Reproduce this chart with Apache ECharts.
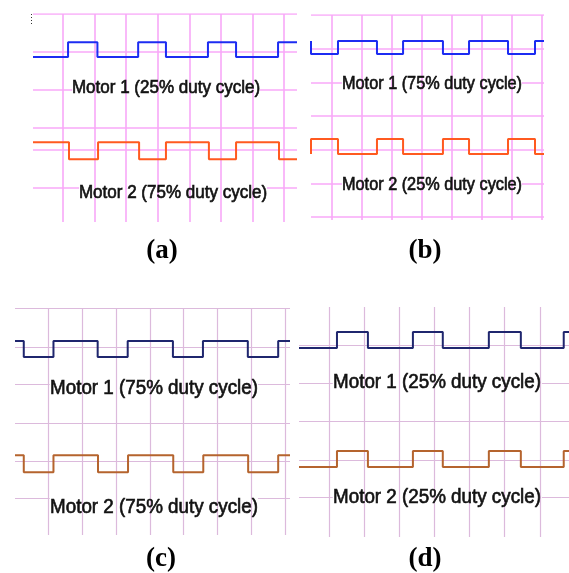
<!DOCTYPE html>
<html><head><meta charset="utf-8">
<script src="https://cdn.jsdelivr.net/npm/echarts@6/dist/echarts.min.js"></script>
<style>html,body{margin:0;padding:0;background:#fff}#c{width:569px;height:573px}</style>
</head><body><div id="c"></div>
<script>
// ---------- text ----------
const panelLabels = ['(a)', '(b)', '(c)', '(d)'];
const motor1Labels = ['Motor 1 (25% duty cycle)', 'Motor 1 (75% duty cycle)', 'Motor 1 (75% duty cycle)', 'Motor 1 (25% duty cycle)'];
const motor2Labels = ['Motor 2 (75% duty cycle)', 'Motor 2 (25% duty cycle)', 'Motor 2 (75% duty cycle)', 'Motor 2 (25% duty cycle)'];

// ---------- axis ranges (in grid divisions) ----------
const xRanges = [[0.05, 8.41], [0.3, 8.07], [0, 8.15], [0.15, 7.83]];
const yRanges = [[0, 5.47], [0, 6.09], [0, 5.97], [0, 6.05]];

// ---------- grid lines (divisions) ----------
const vGridA = [1, 2, 3, 4, 5, 6, 7, 8];
const vGridB = [1, 2, 3, 4, 5, 6, 7, 8];
const vGridC = [1, 2, 3, 4, 5, 6, 7, 8];
const vGridD = [1, 2, 3, 4, 5, 6, 7];
// [y, xFrom, xTo]
const hGridA = [[0, 0.05, 8.41], [1, 0.05, 8.41], [2, 0.05, 1.29], [2, 7.24, 8.41], [3, 0.05, 8.41], [3.58, 0.05, 8.41], [4.58, 0.05, 1.51], [4.58, 7.46, 8.41]];
const hGridB = [[0, 0.3, 8.07], [1, 0.3, 8.07], [2, 0.3, 1.33], [2, 7.33, 8.07], [3, 0.3, 8.07], [4, 0.3, 8.07], [5, 0.3, 1.33], [5, 7.33, 8.07], [6, 0.3, 8.07]];
const hGridC = [[0, 0, 8.15], [1.02, 0, 8.15], [2, 0, 1.03], [2, 7.2, 8.15], [3.03, 0, 8.15], [4.02, 0, 8.15], [5, 0, 1.03], [5, 7.2, 8.15]];
const hGridD = [[1, 0.15, 7.83], [2, 0.15, 1.11], [2, 7.06, 7.83], [3, 0.15, 7.83], [4.03, 0.15, 7.83], [5, 0.15, 1.11], [5, 7.06, 7.83]];

// ---------- square-wave traces ----------
// switching instants (divisions)
const aMotor1Edges = [1.16, 2.09, 3.38, 4.26, 5.59, 6.48, 7.81];
const aMotor2Edges = [1.19, 2.11, 3.41, 4.26, 5.62, 6.48, 7.84];
const bMotor1Edges = [0.3, 1.2, 2.5, 3.37, 4.7, 5.57, 6.87, 7.77];
const bMotor2Edges = [0.3, 1.2, 2.5, 3.37, 4.7, 5.57, 6.87, 7.77];
const cMotor1Edges = [0.26, 1.14, 2.45, 3.34, 4.68, 5.57, 6.9, 7.8];
const cMotor2Edges = [0.26, 1.14, 2.46, 3.35, 4.69, 5.58, 6.91, 7.8];
const dMotor1Edges = [1.23, 2.11, 3.39, 4.24, 5.55, 6.46, 7.68];
const dMotor2Edges = [1.23, 2.11, 3.39, 4.24, 5.55, 6.46, 7.68];
// [high level, low level] (divisions from the top)
const aMotor1Levels = [0.74, 1.13];
const aMotor2Levels = [3.37, 3.82];
const bMotor1Levels = [0.77, 1.16];
const bMotor2Levels = [3.68, 4.13];
const cMotor1Levels = [0.87, 1.29];
const cMotor2Levels = [3.87, 4.32];
const dMotor1Levels = [0.66, 1.08];
const dMotor2Levels = [3.79, 4.21];
const motor1StartsHigh = [false, true, true, false];
const motor2StartsHigh = [true, false, true, false];

// ---------- layout / style ----------
const gridBoxes = [
  { left: 33, top: 14, width: 264, height: 208 },
  { left: 311, top: 15, width: 233, height: 205 },
  { left: 15, top: 308, width: 275, height: 227 },
  { left: 299, top: 307, width: 270, height: 230 }
];
const motor1Colors = ['#1c2cf2', '#1c2cf2', '#1f266e', '#1f266e'];
const motor2Colors = ['#ff5a20', '#ff5a20', '#b5642e', '#b5642e'];
const gridColors = ['#f8a8f8', '#f8a8f8', '#dcbadc', '#dcbadc'];
const gridWidths = [1.6, 1.6, 1.2, 1.2];
const textSizes = [18, 17.5, 20, 20];
const textScaleX = [0.945, 0.93, 0.94, 0.94];
const motor1TextPos = [[166, 88], [432, 84], [154, 388], [437, 382]];
const motor2TextPos = [[173, 193], [432, 185], [154, 507], [437, 497]];
const labelPos = [[162, 251], [425, 251], [161, 559], [425, 559]];

const vGrids = [vGridA, vGridB, vGridC, vGridD];
const hGrids = [hGridA, hGridB, hGridC, hGridD];
const m1Edges = [aMotor1Edges, bMotor1Edges, cMotor1Edges, dMotor1Edges];
const m2Edges = [aMotor2Edges, bMotor2Edges, cMotor2Edges, dMotor2Edges];
const m1Levels = [aMotor1Levels, bMotor1Levels, cMotor1Levels, dMotor1Levels];
const m2Levels = [aMotor2Levels, bMotor2Levels, cMotor2Levels, dMotor2Levels];

function squareWave(x0, x1, startHigh, edges, levels) {
  let high = startHigh;
  const lv = () => (high ? levels[0] : levels[1]);
  const pts = [[x0, lv()]];
  edges.forEach(e => { pts.push([e, lv()]); high = !high; pts.push([e, lv()]); });
  pts.push([x1, lv()]);
  return pts;
}

const grid = [], xAxis = [], yAxis = [], series = [], graphic = [];
for (let i = 0; i < 4; i++) {
  grid.push(Object.assign({ containLabel: false }, gridBoxes[i]));
  xAxis.push({ type: 'value', gridIndex: i, min: xRanges[i][0], max: xRanges[i][1], show: false });
  yAxis.push({ type: 'value', gridIndex: i, min: yRanges[i][0], max: yRanges[i][1], inverse: true, show: false });
  const gl = [];
  vGrids[i].forEach(x => gl.push({ coords: [[x, yRanges[i][0]], [x, yRanges[i][1]]] }));
  hGrids[i].forEach(h => gl.push({ coords: [[h[1], h[0]], [h[2], h[0]]] }));
  series.push({
    type: 'lines', coordinateSystem: 'cartesian2d', xAxisIndex: i, yAxisIndex: i, silent: true, z: 1,
    lineStyle: { color: gridColors[i], width: gridWidths[i], opacity: 1 }, data: gl
  });
  series.push({
    type: 'line', xAxisIndex: i, yAxisIndex: i, showSymbol: false, silent: true, z: 3,
    lineStyle: { color: motor1Colors[i], width: 2 },
    data: squareWave(xRanges[i][0], xRanges[i][1], motor1StartsHigh[i], m1Edges[i], m1Levels[i])
  });
  series.push({
    type: 'line', xAxisIndex: i, yAxisIndex: i, showSymbol: false, silent: true, z: 3,
    lineStyle: { color: motor2Colors[i], width: 2 },
    data: squareWave(xRanges[i][0], xRanges[i][1], motor2StartsHigh[i], m2Edges[i], m2Levels[i])
  });
  [[motor1Labels[i], motor1TextPos[i]], [motor2Labels[i], motor2TextPos[i]]].forEach(([t, p]) => {
    graphic.push({ type: 'text', z: 10, x: p[0], y: p[1], scaleX: textScaleX[i], scaleY: 1,
      style: { text: t, x: 0, y: 0, font: textSizes[i] + 'px "Liberation Sans"', fill: '#121212',
        stroke: '#121212', lineWidth: 0.65,
        align: 'center', verticalAlign: 'middle', textAlign: 'center', textVerticalAlign: 'middle' } });
  });
  graphic.push({ type: 'text', z: 10, style: { text: panelLabels[i], x: labelPos[i][0], y: labelPos[i][1],
    font: 'bold 27px "Liberation Serif"', fill: '#000', align: 'center', verticalAlign: 'middle',
    textAlign: 'center', textVerticalAlign: 'middle' } });
}
// small scanner marks at the top-left corner of panel (a)
graphic.push({ type: 'line', z: 10, shape: { x1: 31.5, y1: 14, x2: 31.5, y2: 25 },
  style: { stroke: '#333', lineWidth: 1, lineDash: [1, 2] } });

const chart = echarts.init(document.getElementById('c'), null, { renderer: 'canvas' });
chart.setOption({ animation: false, backgroundColor: '#fff', grid, xAxis, yAxis, series, graphic });
</script></body></html>
